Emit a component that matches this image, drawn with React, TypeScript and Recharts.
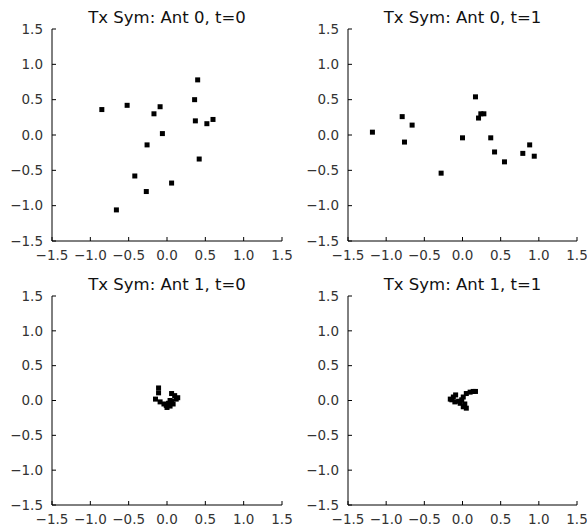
import { ScatterChart, Scatter, XAxis, YAxis } from 'recharts'

const ticks = [-1.5, -1.0, -0.5, 0.0, 0.5, 1.0, 1.5]

const ant0t0 = [
  { x: -0.85, y: 0.36 }, { x: -0.52, y: 0.42 }, { x: -0.17, y: 0.3 }, { x: -0.09, y: 0.4 },
  { x: -0.06, y: 0.02 }, { x: -0.26, y: -0.14 }, { x: -0.42, y: -0.58 }, { x: -0.27, y: -0.8 },
  { x: -0.66, y: -1.06 }, { x: 0.06, y: -0.68 }, { x: 0.4, y: 0.78 }, { x: 0.36, y: 0.5 },
  { x: 0.37, y: 0.2 }, { x: 0.52, y: 0.16 }, { x: 0.6, y: 0.22 }, { x: 0.42, y: -0.34 },
]

const ant0t1 = [
  { x: -1.18, y: 0.04 }, { x: -0.79, y: 0.26 }, { x: -0.66, y: 0.14 }, { x: -0.76, y: -0.1 },
  { x: -0.28, y: -0.54 }, { x: 0.0, y: -0.04 }, { x: 0.17, y: 0.54 }, { x: 0.21, y: 0.24 },
  { x: 0.24, y: 0.3 }, { x: 0.28, y: 0.3 }, { x: 0.37, y: -0.04 }, { x: 0.42, y: -0.24 },
  { x: 0.55, y: -0.38 }, { x: 0.79, y: -0.26 }, { x: 0.88, y: -0.14 }, { x: 0.94, y: -0.3 },
]

const ant1t0 = [
  { x: -0.11, y: 0.18 }, { x: -0.11, y: 0.11 }, { x: -0.15, y: 0.02 }, { x: -0.09, y: -0.02 },
  { x: -0.04, y: -0.05 }, { x: 0.0, y: -0.1 }, { x: 0.02, y: -0.04 }, { x: 0.04, y: 0.0 },
  { x: 0.06, y: 0.1 }, { x: 0.1, y: 0.07 }, { x: 0.14, y: 0.04 }, { x: 0.08, y: -0.05 },
  { x: 0.04, y: -0.08 }, { x: -0.01, y: -0.07 }, { x: 0.06, y: -0.01 }, { x: 0.12, y: 0.02 },
]

const ant1t1 = [
  { x: -0.16, y: 0.02 }, { x: -0.12, y: 0.05 }, { x: -0.09, y: 0.08 }, { x: -0.1, y: -0.02 },
  { x: -0.03, y: -0.04 }, { x: 0.01, y: -0.09 }, { x: 0.05, y: -0.11 }, { x: -0.01, y: 0.01 },
  { x: 0.01, y: 0.05 }, { x: 0.05, y: 0.1 }, { x: 0.1, y: 0.12 }, { x: 0.14, y: 0.13 },
  { x: 0.17, y: 0.13 }, { x: -0.05, y: -0.01 }, { x: 0.03, y: -0.05 }, { x: -0.14, y: 0.01 },
]

const W = 587
const H = 529

// plot boxes: x0, x1, y0, y1 in page pixels
const panels = [
  { title: 'Tx Sym: Ant 0, t=0', data: ant0t0, x0: 52, x1: 282, y0: 29, y1: 241 },
  { title: 'Tx Sym: Ant 0, t=1', data: ant0t1, x0: 348, x1: 577, y0: 29, y1: 241 },
  { title: 'Tx Sym: Ant 1, t=0', data: ant1t0, x0: 52, x1: 282, y0: 296, y1: 505 },
  { title: 'Tx Sym: Ant 1, t=1', data: ant1t1, x0: 348, x1: 577, y0: 296, y1: 505 },
]

const font = "'DejaVu Sans', sans-serif"
const fmt = (v: number) => v.toFixed(1).replace('-', '\u2212')
const tickStyle = { fontSize: 13.5, fill: '#333', fontFamily: font }
const line = { stroke: '#000', strokeWidth: 1 }

const Square = (props: any) => {
  const { cx, cy } = props
  if (cx == null || cy == null) return null
  return <rect x={cx - 2.5} y={cy - 2.5} width={5} height={5} fill="#000" />
}

function Panel({ p }: { p: (typeof panels)[number] }) {
  const yw = 40
  const xh = 24
  return (
    <div style={{ position: 'absolute', left: 0, top: 0, width: W, height: H }}>
      <ScatterChart width={W} height={H}
        margin={{ top: p.y0, right: W - p.x1, left: p.x0 - yw, bottom: H - p.y1 - xh }}>
        <XAxis type="number" dataKey="x" xAxisId="b" domain={[-1.5, 1.5]} ticks={ticks} tickFormatter={fmt}
          height={xh} tick={tickStyle} fontSize={13.5} tickSize={-4} tickMargin={13} axisLine={line} tickLine={line} interval={0} />
        <XAxis type="number" dataKey="x" xAxisId="t" orientation="top" domain={[-1.5, 1.5]} ticks={ticks}
          height={0} tick={false} tickSize={-4} axisLine={line} tickLine={line} interval={0} />
        <YAxis type="number" dataKey="y" yAxisId="l" domain={[-1.5, 1.5]} ticks={ticks} tickFormatter={fmt}
          width={yw} tick={tickStyle} fontSize={13.5} tickSize={-4} tickMargin={13} axisLine={line} tickLine={line} interval={0} />
        <YAxis type="number" dataKey="y" yAxisId="r" orientation="right" domain={[-1.5, 1.5]} ticks={ticks}
          width={0} tick={false} tickSize={-4} axisLine={line} tickLine={line} interval={0} />
        <Scatter data={p.data} xAxisId="b" yAxisId="l" shape={Square} isAnimationActive={false} />
      </ScatterChart>
      <svg width={W} height={H} style={{ position: 'absolute', left: 0, top: 0, pointerEvents: 'none' }}>
        <text x={(p.x0 + p.x1) / 2} y={p.y0 - 6} textAnchor="middle" fontSize={16.5} fontFamily={font} fill="#111">
          {p.title}
        </text>
      </svg>
    </div>
  )
}

export default function App() {
  return (
    <div style={{ position: 'absolute', left: 0, top: 0, width: W, height: H, background: '#fff' }}>
      {panels.map((p) => (
        <Panel key={p.title} p={p} />
      ))}
    </div>
  )
}
